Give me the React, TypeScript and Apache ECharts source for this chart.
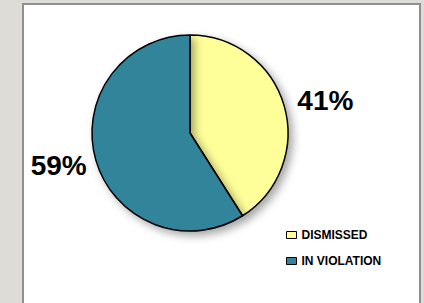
import React, { useEffect, useRef } from "react";
import * as echarts from "echarts";

const categories = ["DISMISSED", "IN VIOLATION"];
const values = [41, 59];
const colors = ["#ffff99", "#31849b"];
const labelGaps = [-6, -10];

export default function App() {
  const ref = useRef<HTMLDivElement>(null);
  useEffect(() => {
    if (!ref.current) return;
    const chart = echarts.init(ref.current, undefined, { renderer: "svg" });
    chart.setOption({
      animation: false,
      backgroundColor: "#dddcd7",
      graphic: [
        {
          type: "rect",
          z: -10,
          shape: { x: 23, y: 4, width: 397, height: 320 },
          style: { fill: "#ffffff", stroke: "#8f8f8f", lineWidth: 2 },
          silent: true,
        },
      ],
      legend: {
        orient: "vertical",
        left: 281,
        top: 224,
        itemWidth: 10,
        itemHeight: 7,
        itemGap: 14,
        icon: "rect",
        data: categories,
        textStyle: {
          fontFamily: "'Liberation Sans', Arial, sans-serif",
          fontWeight: "bold",
          fontSize: 12,
          color: "#000",
        },
        itemStyle: { borderColor: "#000", borderWidth: 1 },
      },
      series: [
        {
          type: "pie",
          center: [190, 133],
          radius: 98,
          startAngle: 90,
          clockwise: true,
          avoidLabelOverlap: false,
          data: categories.map((name, i) => ({
            name,
            value: values[i],
            itemStyle: { color: colors[i] },
            label: { distanceToLabelLine: labelGaps[i] },
          })),
          itemStyle: {
            borderColor: "#000",
            borderWidth: 1.5,
            shadowBlur: 8,
            shadowOffsetX: 4,
            shadowOffsetY: 4,
            shadowColor: "rgba(0,0,0,0.35)",
          },
          label: {
            show: true,
            position: "outside",
            formatter: "{d}%",
            fontFamily: "'Liberation Sans', Arial, sans-serif",
            fontWeight: "bold",
            fontSize: 28,
            color: "#000",
          },
          labelLine: { show: false, length: 20, length2: 0 },
          emphasis: { disabled: true },
        },
      ],
    });
    return () => chart.dispose();
  }, []);
  return (
    <div
      ref={ref}
      style={{ position: "fixed", left: 0, top: 0, width: 424, height: 303 }}
    />
  );
}
